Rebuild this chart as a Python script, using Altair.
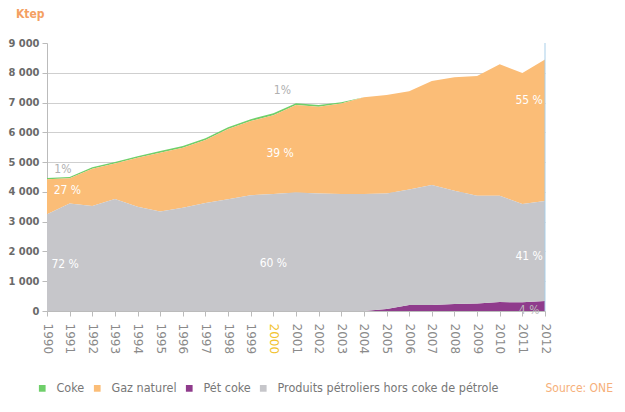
import altair as alt
import pandas as pd

years = list(range(1990, 2013))
coke = [45, 45, 50, 50, 50, 55, 55, 60, 60, 60, 65, 65, 60, 40, 0, 0, 0, 0, 0, 0, 0, 0, 0]
gaz = [1175, 845, 1250, 1190, 1650, 1975, 2015, 2110, 2360, 2490, 2645, 2935, 2910, 3040,
       3250, 3300, 3300, 3490, 3810, 4020, 4420, 4400, 4760]
petcoke = [0, 0, 0, 0, 0, 0, 0, 0, 0, 0, 0, 0, 0, 0, 0, 70, 200, 200, 235, 255, 300, 290, 335]
produits = [3250, 3610, 3530, 3760, 3500, 3340, 3470, 3630, 3750, 3890, 3930, 3980, 3950, 3930,
            3930, 3880, 3880, 4030, 3805, 3615, 3570, 3300, 3355]
y_ticks = [0, 1000, 2000, 3000, 4000, 5000, 6000, 7000, 8000, 9000]

series_names = ["Coke", "Gaz naturel", "Pét coke", "Produits pétroliers hors coke de pétrole"]
series_colors = ["#6fcf6a", "#fbbd77", "#8f3b8c", "#c6c6ca"]
stack_order = {"Pét coke": 0, "Produits pétroliers hors coke de pétrole": 1, "Gaz naturel": 2, "Coke": 3}

# annotation labels
lab_year = [1990.7, 1990.9, 1990.8, 2000.0, 2000.3, 2000.4, 2011.3, 2011.3, 2011.3]
lab_value = [4770, 4060, 1580, 1610, 5300, 7420, 7080, 1850, 20]
lab_text = ["1%", "27 %", "72 %", "60 %", "39 %", "1%", "55 %", "41 %", "4 %"]
lab_color = ["#b0b0b0", "#ffffff", "#ffffff", "#ffffff", "#ffffff", "#b0b0b0", "#ffffff", "#ffffff", "#bdbdbd"]

# right edge rule
edge_year = [2012]
edge_lo = [0]
edge_hi = [9000]

rows = []
for name, vals in zip(series_names, [coke, gaz, petcoke, produits]):
    for y, v in zip(years, vals):
        rows.append({"year": y, "value": v, "serie": name, "ord": stack_order[name]})
df = pd.DataFrame(rows)
lab_df = pd.DataFrame({"year": lab_year, "value": lab_value, "text": lab_text, "col": lab_color})
edge_df = pd.DataFrame({"year": edge_year, "lo": edge_lo, "hi": edge_hi})

FONT = "DejaVu Sans Condensed"

xscale = alt.Scale(domain=[1990, 2012], nice=False, zero=False)
yscale = alt.Scale(domain=[0, 9000], nice=False)

x_axis = alt.Axis(values=years, format="d", labelAngle=90, labelAlign="left",
                  labelBaseline="middle", labelFontSize=12, labelFont="DejaVu Sans",
                  labelColor={"condition": {"test": "datum.value == 2000", "value": "#f2c32f"},
                              "value": "#8a8a8a"},
                  labelPadding=7, tickSize=5, tickColor="#bbbbbb", domainColor="#bbbbbb",
                  grid=False, labelOverlap=False, title=None)
y_axis = alt.Axis(values=y_ticks,
                  labelExpr="replace(format(datum.value, ','), ',', ' ')",
                  labelFontSize=11, labelFont=FONT, labelFontWeight="bold", labelColor="#6a6a6a",
                  tickSize=5, tickColor="#bbbbbb", domainColor="#bbbbbb", labelPadding=3,
                  grid=True, gridColor="#cfcfcf", labelOverlap=False, title=None,
                  gridOpacity={"condition": {"test": "datum.value == 9000", "value": 0}, "value": 1})

area = alt.Chart(df).mark_area(interpolate="linear").encode(
    x=alt.X("year:Q", scale=xscale, axis=x_axis),
    y=alt.Y("value:Q", stack="zero", scale=yscale, axis=y_axis),
    color=alt.Color("serie:N", scale=alt.Scale(domain=series_names, range=series_colors),
                    legend=alt.Legend(title=None, orient="none", legendX=-11, legendY=339,
                                      direction="horizontal", symbolType="square", symbolSize=45,
                                      symbolStrokeWidth=0, labelFontSize=12.5, labelFont=FONT,
                                      labelColor="#777777", columnPadding=6, labelOffset=8,
                                      labelLimit=0)),
    order=alt.Order("ord:Q"),
)

labels = alt.Chart(lab_df).mark_text(fontSize=12, font=FONT, baseline="middle", align="center").encode(
    x=alt.X("year:Q", scale=xscale, axis=x_axis),
    y=alt.Y("value:Q", scale=yscale, axis=y_axis),
    text="text:N",
    color=alt.Color("col:N", scale=None),
)

edge = alt.Chart(edge_df).mark_rule(color="#a9cfe9", strokeWidth=1).encode(
    x=alt.X("year:Q", scale=xscale, axis=x_axis),
    y=alt.Y("lo:Q", scale=yscale, axis=y_axis),
    y2="hi:Q",
)

ktep = alt.Chart(alt.Data(values=[{}])).mark_text(
    text="Ktep", align="left", baseline="middle", color="#f4a062", fontSize=12, font=FONT, fontWeight="bold"
).encode(x=alt.value(-31), y=alt.value(-29))

source = alt.Chart(alt.Data(values=[{}])).mark_text(
    text="Source: ONE", align="right", baseline="middle", color="#f6b07a", fontSize=12, font=FONT
).encode(x=alt.value(566), y=alt.value(345))

chart = alt.layer(area, edge, labels, ktep, source).properties(
    width=498, height=268,
    padding={"left": 39, "top": 35, "right": 70, "bottom": 85},
    autosize=alt.AutoSizeParams(type="none"),
).configure_view(stroke=None)

chart.save("out.html", embed_options={"renderer": "svg", "actions": False})
